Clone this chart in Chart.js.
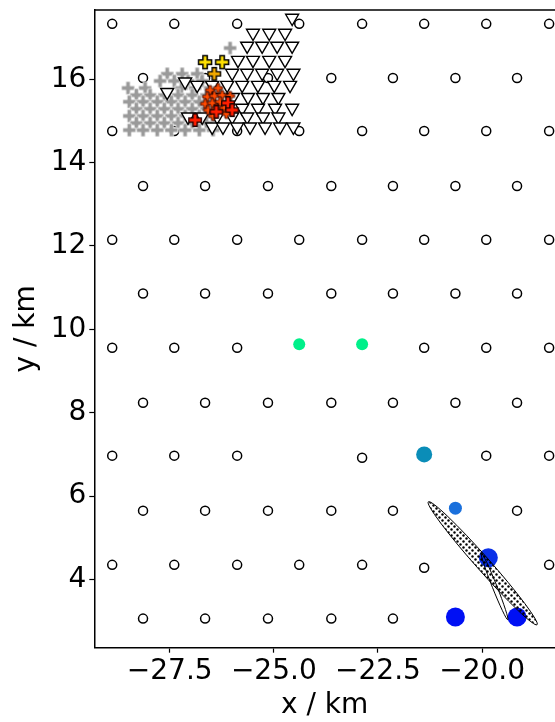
<!DOCTYPE html>
<html>
<head>
<meta charset="utf-8">
<script src="https://cdn.jsdelivr.net/npm/chart.js@4.4.1/dist/chart.umd.min.js"></script>
<style>
  html, body { margin: 0; padding: 0; background: #fff; }
  #wrap { width: 555px; height: 722px; }
</style>
</head>
<body>
<div id="wrap"><canvas id="canvas" width="555" height="722"></canvas></div>
<script>
// ---- data (km) ----
var xTicks = [-27.5, -25.0, -22.5, -20.0];
var yTicks = [4, 6, 8, 10, 12, 14, 16];

// station grid (open circles)
var staX = [
  -28.88, -27.39, -25.88, -24.39, -22.88, -21.39, -19.90, -18.39,
  -28.14, -26.65, -25.14, -23.62, -22.14, -20.64, -19.16,
  -28.88, -27.39, -25.88, -24.39, -22.88, -21.39, -19.90, -18.39,
  -28.14, -26.65, -25.14, -23.62, -22.14, -20.64, -19.16,
  -28.88, -27.39, -25.88, -24.39, -22.88, -21.39, -19.90, -18.39,
  -28.14, -26.65, -25.14, -23.62, -22.14, -20.64, -19.16,
  -28.88, -27.39, -25.88, -21.39, -19.90, -18.39,
  -28.14, -26.65, -25.14, -23.62, -22.14, -20.64, -19.16,
  -28.88, -27.39, -25.88, -22.88, -19.90, -18.39,
  -28.14, -26.65, -25.14, -23.62, -22.14, -19.16,
  -28.88, -27.39, -25.88, -24.39, -22.88, -21.39, -18.39,
  -28.14, -26.65, -25.14, -23.62, -22.14
];
var staY = [
  17.33, 17.33, 17.33, 17.33, 17.33, 17.33, 17.33, 17.33,
  16.03, 16.03, 16.03, 16.03, 16.03, 16.03, 16.03,
  14.76, 14.76, 14.76, 14.76, 14.76, 14.76, 14.76, 14.76,
  13.44, 13.44, 13.44, 13.44, 13.44, 13.44, 13.44,
  12.15, 12.15, 12.15, 12.15, 12.15, 12.15, 12.15, 12.15,
  10.86, 10.86, 10.86, 10.86, 10.86, 10.86, 10.86,
  9.56, 9.56, 9.56, 9.56, 9.56, 9.56,
  8.24, 8.24, 8.24, 8.24, 8.24, 8.24, 8.24,
  6.97, 6.97, 6.97, 6.92, 6.97, 6.97,
  5.65, 5.65, 5.65, 5.65, 5.65, 5.65,
  4.35, 4.35, 4.35, 4.35, 4.35, 4.28, 4.35,
  3.06, 3.06, 3.06, 3.06, 3.06
];

// stations with a detection (coloured dots)
var hitX = [-24.39, -22.88, -21.39, -20.64, -19.85, -20.64, -19.16];
var hitY = [9.64, 9.64, 7.00, 5.71, 4.52, 3.10, 3.10];
var hitR = [6, 6, 8, 6.5, 9.5, 9.5, 9.5];
var hitColor = ['#00f08a', '#00f08a', '#0a8db8', '#1a70dc', '#0a30e8', '#0010f4', '#0010f4'];

// gray crosses
var grayX = [
  -27.56, -27.20, -26.84,
  -27.73, -27.39, -27.06, -26.72,
  -28.50, -28.09, -27.22, -26.89, -26.53,
  -28.30, -27.97, -27.63, -27.30, -26.96, -26.62, -26.29,
  -28.47, -28.14, -27.80, -27.46, -27.13, -26.79, -26.46,
  -28.30, -27.97, -27.63, -27.30, -26.96, -26.62,
  -28.47, -28.14, -27.80, -27.46, -27.13, -26.79, -26.46,
  -28.30, -27.97, -27.63, -27.30, -26.96, -26.62,
  -28.47, -28.14, -27.80, -27.46, -27.13, -26.79, -26.46,
  -26.05
];
var grayY = [
  16.13, 16.13, 16.13,
  15.96, 15.96, 15.96, 15.96,
  15.79, 15.79, 15.79, 15.79, 15.79,
  15.62, 15.62, 15.62, 15.62, 15.62, 15.62, 15.62,
  15.46, 15.46, 15.46, 15.46, 15.46, 15.46, 15.46,
  15.29, 15.29, 15.29, 15.29, 15.29, 15.29,
  15.12, 15.12, 15.12, 15.12, 15.12, 15.12, 15.12,
  14.95, 14.95, 14.95, 14.95, 14.95, 14.95,
  14.78, 14.78, 14.78, 14.78, 14.78, 14.78, 14.78,
  16.75
];

// triangles
var triX = [
  -24.56,
  -25.50, -25.11, -24.73,
  -25.64, -25.28, -24.92, -24.56,
  -25.86, -25.50, -25.11, -24.73,
  -26.00, -25.64, -25.28, -24.92, -24.53,
  -27.13, -26.84, -26.48, -26.12, -25.76, -25.38, -24.99, -24.61,
  -27.56,
  -26.34, -25.98, -25.62, -25.26, -24.89,
  -26.48, -26.12, -25.76, -25.38, -24.97, -24.56,
  -27.06, -26.72, -26.36, -26.00, -25.64, -25.26, -24.89,
  -26.48, -26.22, -25.88, -25.57, -25.21, -24.85, -24.53
];
var triY = [
  17.47,
  17.11, 17.11, 17.11,
  16.80, 16.80, 16.80, 16.80,
  16.46, 16.46, 16.46, 16.46,
  16.15, 16.15, 16.15, 16.15, 16.15,
  15.94, 15.86, 15.86, 15.86, 15.86, 15.86, 15.86, 15.86,
  15.69,
  15.57, 15.57, 15.57, 15.57, 15.57,
  15.31, 15.31, 15.31, 15.31, 15.31, 15.31,
  15.10, 15.10, 15.10, 15.10, 15.10, 15.10, 15.10,
  14.86, 14.86, 14.86, 14.86, 14.86, 14.86, 14.86
];

// small orange crosses
var orX = [-26.53, -26.34, -26.60, -26.43, -26.24, -26.65, -26.48, -26.29, -26.05, -26.58, -26.38, -26.19, -26.46, -26.14];
var orY = [15.74, 15.79, 15.58, 15.60, 15.62, 15.41, 15.43, 15.46, 15.60, 15.26, 15.29, 15.31, 15.12, 15.17];

// big red crosses
var redX = [-26.10, -26.38, -26.00, -26.89];
var redY = [15.43, 15.22, 15.26, 15.02];

// yellow / gold crosses
var yelX = [-26.65, -26.24];
var yelY = [16.41, 16.41];
var goldX = [-26.43];
var goldY = [16.13];

// uncertainty ellipses (centre, semi axes in km, angle in deg)
var ellX = [-19.985, -19.70];
var ellY = [4.388, 3.83];
var ellA = [1.97, 0.86];
var ellB = [0.165, 0.055];
var ellAng = [-48.5, -68.3];
var ellHatch = [true, false];

function pts(xs, ys){
  var out = [];
  for (var i = 0; i < xs.length; i++) out.push({x: xs[i], y: ys[i]});
  return out;
}

// filled plus marker (like matplotlib 'P')
function plusMarker(size, fill, edge, lw){
  var c = document.createElement('canvas');
  var s = Math.ceil(size + lw * 2 + 2);
  c.width = s; c.height = s;
  var g = c.getContext('2d');
  var h = size / 2, w = size / 6;
  g.translate(s / 2, s / 2);
  g.beginPath();
  g.moveTo(-w, -h); g.lineTo(w, -h); g.lineTo(w, -w); g.lineTo(h, -w);
  g.lineTo(h, w); g.lineTo(w, w); g.lineTo(w, h); g.lineTo(-w, h);
  g.lineTo(-w, w); g.lineTo(-h, w); g.lineTo(-h, -w); g.lineTo(-w, -w);
  g.closePath();
  g.fillStyle = fill;
  g.fill();
  if (lw > 0){
    g.lineWidth = lw;
    g.strokeStyle = edge;
    g.lineJoin = 'miter';
    g.stroke();
  }
  return c;
}

function dotPattern(ctx){
  var c = document.createElement('canvas');
  c.width = 6; c.height = 6;
  var g = c.getContext('2d');
  g.fillStyle = '#000';
  g.beginPath(); g.arc(1.5, 1.5, 1.2, 0, Math.PI * 2); g.fill();
  g.beginPath(); g.arc(4.5, 4.5, 1.2, 0, Math.PI * 2); g.fill();
  return ctx.createPattern(c, 'repeat');
}

var grayMk = plusMarker(13, '#9a9a9a', '#ffffff', 0.6);
var orMk = plusMarker(9, '#ff4a00', '#3a0a00', 0.9);
var redMk = plusMarker(12.5, '#ff1e00', '#1a0000', 1.3);
var yelMk = plusMarker(13, '#ffe100', '#000000', 1.5);
var goldMk = plusMarker(12.5, '#f2a900', '#000000', 1.4);

var ellipsePlugin = {
  id: 'ellipses',
  afterDatasetsDraw: function(chart){
    var ctx = chart.ctx, sx = chart.scales.x, sy = chart.scales.y;
    var k = Math.abs(sx.getPixelForValue(1) - sx.getPixelForValue(0));
    ctx.save();
    for (var i = 0; i < ellX.length; i++){
      ctx.beginPath();
      ctx.ellipse(sx.getPixelForValue(ellX[i]), sy.getPixelForValue(ellY[i]),
        ellA[i] * k, ellB[i] * k, -ellAng[i] * Math.PI / 180, 0, Math.PI * 2);
      if (ellHatch[i]){
        ctx.fillStyle = dotPattern(ctx);
        ctx.fill();
      }
      ctx.lineWidth = 1;
      ctx.strokeStyle = '#000';
      ctx.stroke();
    }
    // top spine (axes box continues past the right edge of the picture)
    var a = chart.chartArea;
    ctx.beginPath();
    ctx.moveTo(a.left, a.top);
    ctx.lineTo(chart.width, a.top);
    ctx.lineWidth = 1.5;
    ctx.strokeStyle = '#000';
    ctx.stroke();
    ctx.restore();
  }
};

function noPad(s){
  s.paddingLeft = 0; s.paddingRight = 0; s.paddingTop = 0; s.paddingBottom = 0;
}

var fontFam = "'DejaVu Sans', sans-serif";

window.onload = function(){
  var ctx = document.getElementById('canvas').getContext('2d');
  window.myChart = new Chart(ctx, {
    type: 'scatter',
    data: {
      datasets: [
        { label: 'hits', data: pts(hitX, hitY), order: 0, clip: false,
          pointRadius: hitR, pointBackgroundColor: hitColor, pointBorderWidth: 0 },
        { label: 'yellow', data: pts(yelX, yelY), order: 1, clip: false, pointStyle: yelMk },
        { label: 'gold', data: pts(goldX, goldY), order: 1, clip: false, pointStyle: goldMk },
        { label: 'red', data: pts(redX, redY), order: 2, clip: false, pointStyle: redMk },
        { label: 'orange', data: pts(orX, orY), order: 3, clip: false, pointStyle: orMk },
        { label: 'tri', data: pts(triX, triY), order: 4, clip: false, pointStyle: 'triangle', rotation: 180,
          pointRadius: 7.5, pointBackgroundColor: '#fff', pointBorderColor: '#000', pointBorderWidth: 1.4 },
        { label: 'gray', data: pts(grayX, grayY), order: 5, clip: false, pointStyle: grayMk },
        { label: 'stations', data: pts(staX, staY), order: 6, clip: false, pointStyle: 'circle',
          pointRadius: 4.5, pointBackgroundColor: '#fff', pointBorderColor: '#000', pointBorderWidth: 1.5 }
      ]
    },
    options: {
      responsive: false,
      animation: false,
      events: [],
      layout: { autoPadding: false, padding: { top: 10, right: 0, left: 0, bottom: 0 } },
      plugins: { legend: { display: false }, tooltip: { enabled: false } },
      scales: {
        x: {
          type: 'linear', min: -29.31, max: -18.249,
          afterFit: function(s){ s.height = 74.3; noPad(s); },
          afterBuildTicks: function(s){ s.ticks = xTicks.map(function(v){ return {value: v}; }); },
          grid: { drawOnChartArea: false, tickLength: 5, tickColor: '#000', tickWidth: 1.2 },
          border: { color: '#000', width: 1.5 },
          ticks: {
            autoSkip: false, maxRotation: 0, padding: 2, color: '#000',
            font: { family: fontFam, size: 28 },
            callback: function(v){ return (v < 0 ? '\u2212' : '') + Math.abs(v).toFixed(1); }
          },
          title: { display: true, text: 'x / km', color: '#000', padding: { top: 0, bottom: -1 },
            font: { family: fontFam, size: 28 } }
        },
        y: {
          type: 'linear', min: 2.362, max: 17.662,
          afterFit: function(s){ s.width = 94.3; noPad(s); },
          afterBuildTicks: function(s){ s.ticks = yTicks.map(function(v){ return {value: v}; }); },
          grid: { drawOnChartArea: false, tickLength: 5, tickColor: '#000', tickWidth: 1.2 },
          border: { color: '#000', width: 1.5 },
          ticks: {
            autoSkip: false, padding: 3, color: '#000',
            font: { family: fontFam, size: 28 },
            callback: function(v){ return String(v); }
          },
          title: { display: true, text: 'y / km', color: '#000', padding: { top: 10, bottom: 0 },
            font: { family: fontFam, size: 28 } }
        }
      }
    },
    plugins: [ellipsePlugin]
  });
};
</script>
</body>
</html>
